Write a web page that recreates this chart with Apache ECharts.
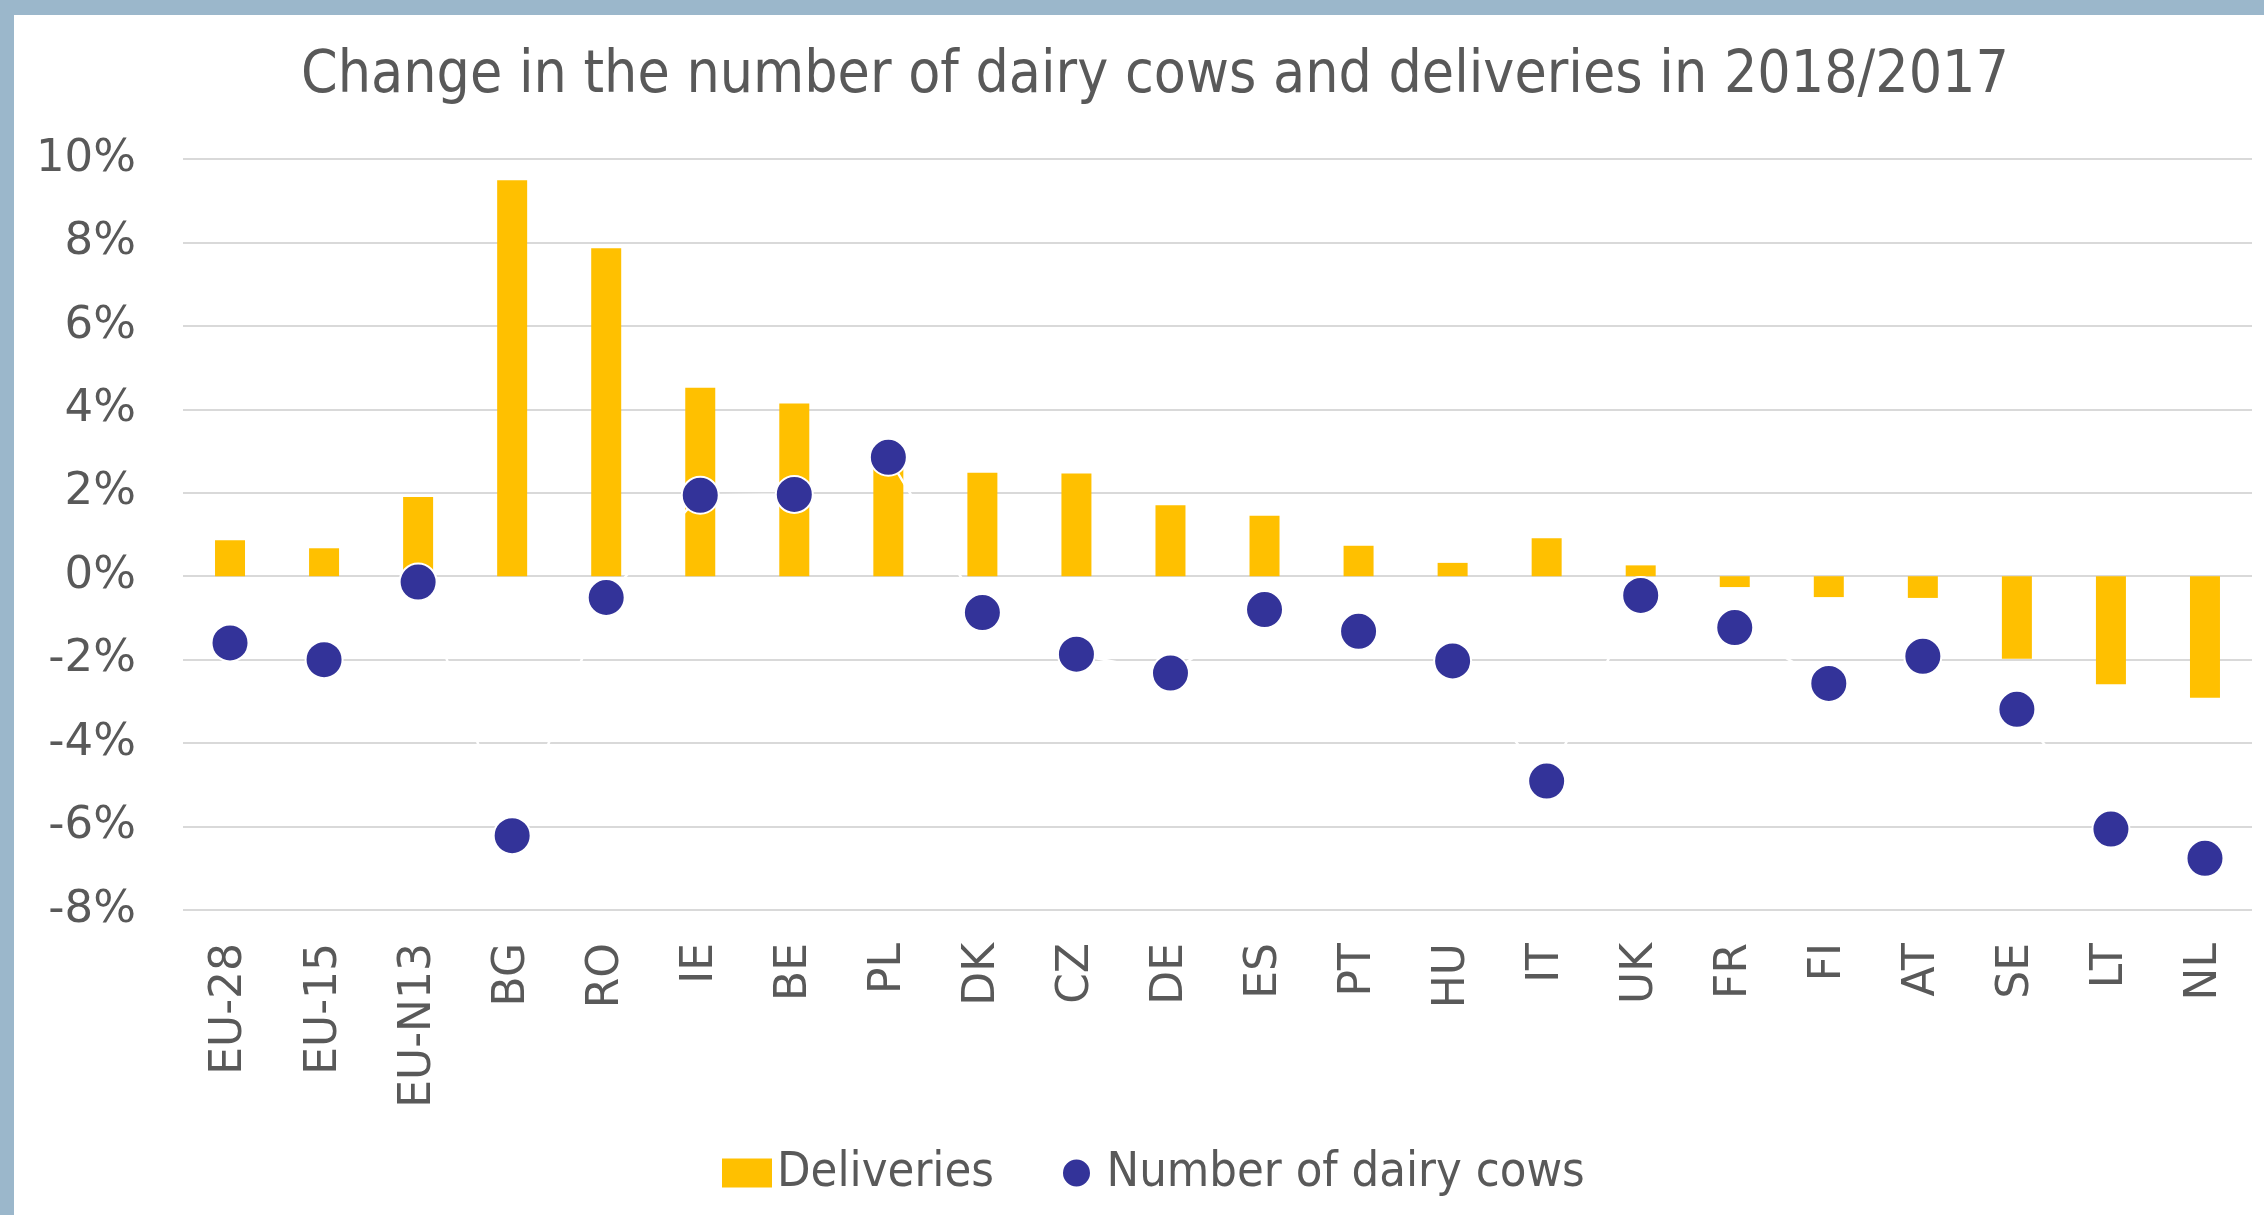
<!DOCTYPE html>
<html><head><meta charset="utf-8">
<script src="https://cdn.jsdelivr.net/npm/echarts@6/dist/echarts.min.js"></script>
<style>html,body{margin:0;padding:0;background:#fff;overflow:hidden}#c{width:2264px;height:1215px}</style>
</head><body><div id="c"></div>
<script>
// ---- data ----
const titleText = 'Change in the number of dairy cows and deliveries in 2018/2017';
const categories = ['EU-28','EU-15','EU-N13','BG','RO','IE','BE','PL','DK','CZ','DE','ES','PT','HU','IT','UK','FR','FI','AT','SE','LT','NL'];
const deliveries = [0.86, 0.67, 1.90, 9.49, 7.86, 4.52, 4.14, 2.60, 2.48, 2.46, 1.70, 1.45, 0.73, 0.32, 0.91, 0.26, -0.26, -0.50, -0.52, -1.98, -2.59, -2.91];
const dairyCows = [-1.60, -2.00, -0.14, -6.22, -0.51, 1.94, 1.96, 2.85, -0.87, -1.87, -2.32, -0.80, -1.32, -2.03, -4.91, -0.46, -1.23, -2.57, -1.92, -3.19, -6.06, -6.76];
const seriesNames = ['Deliveries', 'Number of dairy cows'];
const yTicks = {min: -8, max: 10, interval: 2};

// ---- font helpers ----
const ctx = document.createElement('canvas').getContext('2d');
function has(name){
  const s='Change in the number of dairy cows 0123';
  for (const fb of ['monospace','serif']){
    ctx.font='80px '+fb; const a=ctx.measureText(s).width;
    ctx.font='80px "'+name+'",'+fb; const b=ctx.measureText(s).width;
    if (a!==b) return true;
  }
  return false;
}
const narrowFont = ['Liberation Sans Narrow','DejaVu Sans Condensed','Roboto Condensed','Open Sans Condensed','Roboto'].find(has) || 'sans-serif';
function widthAt(text, size, font){ ctx.font = size+'px "'+font+'"'; return ctx.measureText(text).width; }
function fitSize(text, target, font, maxS){ const w = widthAt(text, 100, font); return Math.min(maxS, Math.round(target / w * 100 * 10)/10); }
const titleSize = fitSize(titleText, 1708, narrowFont, 66);
const titleW = widthAt(titleText, titleSize, narrowFont);
const legendSize = fitSize('Number of dairy cows', 478, narrowFont, 52);
const delivW = widthAt(seriesNames[0], legendSize, narrowFont);
const legendGap = Math.max(20, 1081 - (717 + 50 + 5 + delivW + 25));

const textColor = '#595959';
const axisFont = 'DejaVu Sans';

const chart = echarts.init(document.getElementById('c'), null, {renderer: 'canvas'});
chart.setOption({
  animation: false,
  backgroundColor: '#ffffff',
  title: {
    text: titleText,
    left: 1150 - titleW / 2,
    top: 43,
    textStyle: {fontFamily: narrowFont, fontSize: titleSize, fontWeight: 'normal', color: textColor}
  },
  legend: {
    left: 717,
    top: 1141,
    itemWidth: 50,
    itemHeight: 29,
    itemGap: legendGap,
    textStyle: {fontFamily: narrowFont, fontSize: legendSize, color: textColor, lineHeight: 54},
    data: [{name: seriesNames[0], icon: 'rect'}, {name: seriesNames[1], icon: 'circle'}]
  },
  grid: {left: 183, right: 12, top: 159, bottom: 1215 - 910, containLabel: false},
  xAxis: {
    type: 'category',
    data: categories,
    axisLine: {show: false},
    axisTick: {show: false},
    axisLabel: {rotate: 90, margin: 33, fontFamily: axisFont, fontSize: 44, color: textColor, interval: 0}
  },
  yAxis: {
    type: 'value',
    min: yTicks.min, max: yTicks.max, interval: yTicks.interval,
    axisLine: {show: false},
    axisTick: {show: false},
    splitLine: {lineStyle: {color: '#D9D9D9', width: 2}},
    axisLabel: {margin: 47, fontFamily: axisFont, fontSize: 45, color: textColor, formatter: v => v + '%'}
  },
  series: [
    {
      name: seriesNames[0], type: 'bar', data: deliveries, barWidth: 30,
      itemStyle: {color: '#FFC000'}
    },
    {
      name: seriesNames[1], type: 'line', data: dairyCows,
      symbol: 'circle', symbolSize: 37, showSymbol: true,
      lineStyle: {color: '#ffffff', width: 2.5},
      itemStyle: {color: '#333399', borderColor: '#ffffff', borderWidth: 2},
      z: 3
    }
  ],
  graphic: [
    {type: 'rect', left: 0, top: 0, shape: {width: 2264, height: 15}, style: {fill: '#9BB7CB'}, z: 100},
    {type: 'rect', left: 0, top: 0, shape: {width: 14, height: 1215}, style: {fill: '#9BB7CB'}, z: 100}
  ]
});
</script></body></html>
